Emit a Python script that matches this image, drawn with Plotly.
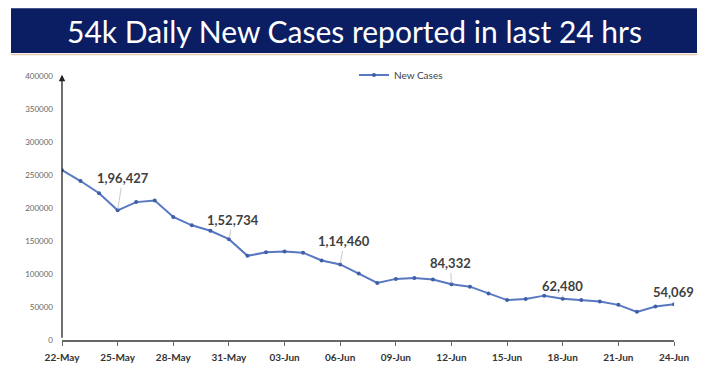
import plotly.graph_objects as go
import pandas as pd

dates = pd.date_range("2021-05-22", "2021-06-24", freq="D")
new_cases = [257299, 240842, 222315, 196427, 208921, 211298, 186364, 173790,
             165553, 152734, 127510, 132788, 134154, 132364, 120529, 114460,
             100636, 86498, 92596, 94052, 91702, 84332, 80834, 70421, 60471,
             62224, 67208, 62480, 60753, 58419, 53256, 42640, 50848, 54069]
label_dates = ["2021-05-25", "2021-05-31", "2021-06-06", "2021-06-12", "2021-06-18", "2021-06-24"]
label_texts = ["1,96,427", "1,52,734", "1,14,460", "84,332", "62,480", "54,069"]
tick_dates = pd.date_range("2021-05-22", "2021-06-24", freq="3D")
tick_labels = [d.strftime("%d-%b") for d in tick_dates]
y_ticks = [0, 50000, 100000, 150000, 200000, 250000, 300000, 350000, 400000]

# page body has an 8px margin; figure is sized/offset to compensate
OFF = 8
W, H = 712 - OFF, 369 - OFF
L, R, T, B = 62 - OFF, 38, 76 - OFF, 28.5

def px_x(px):
    return (px - OFF - L) / (W - L - R)

def px_y(py):
    return (H - B - (py - OFF)) / (H - T - B)

fig = go.Figure()
fig.add_trace(go.Scatter(
    x=dates, y=new_cases, mode="lines+markers", name="New Cases",
    line=dict(color="#5878C2", width=2),
    marker=dict(size=4, color="#3F5FA8"),
))

value_map = dict(zip(dates.strftime("%Y-%m-%d"), new_cases))
offsets = [(5, -32), (4, -19), (4, -23), (-1, -21), (0, -13), (-1, -12)]
for d, t, (ax, ay) in zip(label_dates, label_texts, offsets):
    fig.add_annotation(
        x=d, y=value_map[d], text=t, showarrow=True, arrowhead=0,
        arrowwidth=0.8, arrowcolor="#BBBBBB", ax=ax, ay=ay,
        font=dict(family="Lato, Open Sans, sans-serif", size=13, color="#404040", weight="bold"),
        xanchor="center", yanchor="middle", standoff=1,
    )

# y-axis with arrowhead
fig.add_annotation(
    x=0, y=1.005, xref="paper", yref="paper", text="", showarrow=True,
    ax=0, ay=H - T - B, arrowhead=2, arrowsize=1, arrowwidth=1.3, arrowcolor="#222222",
)

# title banner
fig.add_shape(type="rect", xref="paper", yref="paper",
              x0=px_x(11), x1=px_x(697), y0=px_y(53), y1=px_y(8),
              fillcolor="#0B1E63", line=dict(width=0), layer="below")
fig.add_shape(type="line", xref="paper", yref="paper",
              x0=px_x(11), x1=px_x(697), y0=px_y(54.5), y1=px_y(54.5),
              line=dict(color="#E8C9B0", width=1.5))
fig.add_annotation(
    x=px_x(354), y=px_y(31), xref="paper", yref="paper",
    text="54k Daily New Cases reported in last 24 hrs", showarrow=False,
    font=dict(family="Lato, Open Sans, sans-serif", size=30, color="white"),
    xanchor="center", yanchor="middle",
)

fig.update_layout(
    width=W, height=H, margin=dict(l=L, r=R, t=T, b=B, autoexpand=False),
    paper_bgcolor="white", plot_bgcolor="white",
    showlegend=True,
    legend=dict(x=px_x(354), y=px_y(75), xanchor="left", yanchor="middle",
                font=dict(family="Lato, Open Sans, sans-serif", size=10, color="#404040"),
                bgcolor="rgba(0,0,0,0)", itemwidth=30, tracegroupgap=0),
    xaxis=dict(
        range=[dates[0], dates[-1]], tickvals=tick_dates, ticktext=tick_labels,
        showgrid=False, showline=True, linecolor="#666666", linewidth=1.5,
        ticks="outside", ticklen=4, tickcolor="#666666", zeroline=False,
        ticklabelstandoff=3,
        tickfont=dict(family="Lato, Open Sans, sans-serif", size=10, color="#333333", weight="bold"),
    ),
    yaxis=dict(
        range=[0, 400000], tickvals=y_ticks, ticktext=[str(v) for v in y_ticks],
        showgrid=False, showline=False, zeroline=False, ticks="",
        ticklabelstandoff=8,
        tickfont=dict(family="Lato, Open Sans, sans-serif", size=8, color="#666666"),
    ),
)

fig.write_html("out.html")
